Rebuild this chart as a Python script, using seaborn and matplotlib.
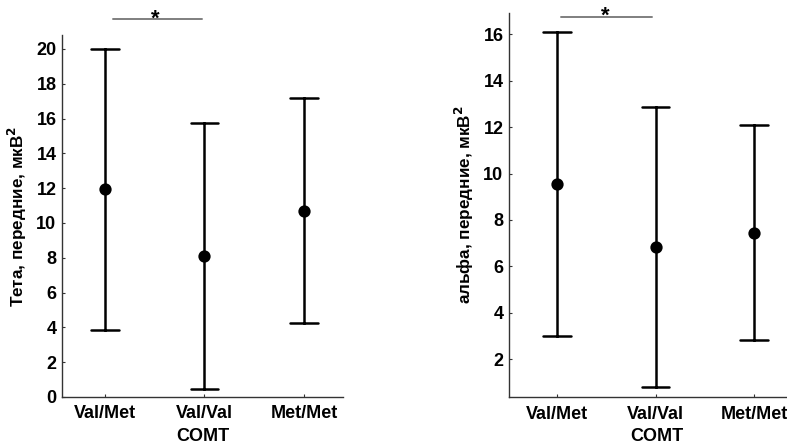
import numpy as np
import pandas as pd
import matplotlib
matplotlib.use("Agg")
import matplotlib.pyplot as plt
import seaborn as sns

# Genotype groups
genotypes = ["Val/Met", "Val/Val", "Met/Met"]

# Theta power, frontal leads: mean and interval bounds
theta_mean = [11.95, 8.1, 10.7]
theta_low = [3.85, 0.45, 4.25]
theta_high = [20.0, 15.75, 17.2]

# Alpha power, frontal leads: mean and interval bounds
alpha_mean = [9.55, 6.85, 7.45]
alpha_low = [3.0, 0.8, 2.85]
alpha_high = [16.1, 12.85, 12.1]

theta_ticks = list(range(0, 21, 2))
alpha_ticks = list(range(2, 17, 2))


def long_table(lows, means, highs):
    rows = []
    for g, lo, m, hi in zip(genotypes, lows, means, highs):
        for v in (lo, m, hi):
            rows.append({"COMT": g, "value": v})
    return pd.DataFrame(rows)


sns.set_theme(style="ticks")
plt.rcParams["font.family"] = ["Liberation Sans", "DejaVu Sans"]
plt.rcParams["font.weight"] = "bold"
plt.rcParams["text.color"] = "black"
plt.rcParams["axes.labelcolor"] = "black"
plt.rcParams["xtick.labelcolor"] = "black"
plt.rcParams["ytick.labelcolor"] = "black"

fig = plt.figure(figsize=(7.87, 4.46), dpi=100)
ax1 = fig.add_axes([0.0788, 0.1099, 0.357, 0.8117])
ax2 = fig.add_axes([0.6468, 0.1092, 0.3761, 0.8623])


def draw(ax, lows, means, highs, ylabel, ylim, ticks, xlim):
    df = long_table(lows, means, highs)
    sns.pointplot(
        data=df, x="COMT", y="value", order=genotypes, ax=ax,
        estimator="median", errorbar=lambda v: (v.min(), v.max()),
        linestyle="none", color="black", markers="o", markersize=6.8,
        capsize=0.28, err_kws={"linewidth": 1.8},
    )
    ax.set_xlim(*xlim)
    ax.set_ylim(*ylim)
    ax.set_yticks(ticks)
    ax.set_xlabel("COMT", fontsize=13, fontweight="bold", labelpad=4,
                  color="black")
    ax.set_ylabel(ylabel, fontsize=12.3, fontweight="bold", labelpad=5,
                  color="black")
    ax.tick_params(axis="x", direction="in", length=2.5, width=0.8,
                   labelsize=13, color="#333333", pad=6)
    ax.tick_params(axis="y", direction="in", length=2.5, width=0.8,
                   labelsize=13, color="#333333", pad=4)
    for lbl in ax.get_xticklabels() + ax.get_yticklabels():
        lbl.set_fontweight("bold")
        lbl.set_color("black")
    for side in ("top", "right"):
        ax.spines[side].set_visible(False)
    for side in ("left", "bottom"):
        ax.spines[side].set_color("#333333")
        ax.spines[side].set_linewidth(1.0)


draw(ax1, theta_low, theta_mean, theta_high,
     "Тета, передние, мкВ$^2$", (0, 20.8), theta_ticks, (-0.43, 2.39))
draw(ax2, alpha_low, alpha_mean, alpha_high,
     "альфа, передние, мкВ$^2$", (0.36, 16.93), alpha_ticks, (-0.49, 2.52))

# Significance brackets between Val/Met and Val/Val
ax1.plot([0.08, 0.98], [21.7, 21.7], color="#7f7f7f", lw=1.4, clip_on=False)
ax1.text(0.51, 21.7, "*", ha="center", va="center", fontsize=16,
         fontweight="bold", color="black", clip_on=False)
ax2.plot([0.04, 0.96], [16.76, 16.76], color="#7f7f7f", lw=1.4, clip_on=False)
ax2.text(0.485, 16.76, "*", ha="center", va="center", fontsize=16,
         fontweight="bold", color="black", clip_on=False)

fig.savefig("out.png", dpi=100)
